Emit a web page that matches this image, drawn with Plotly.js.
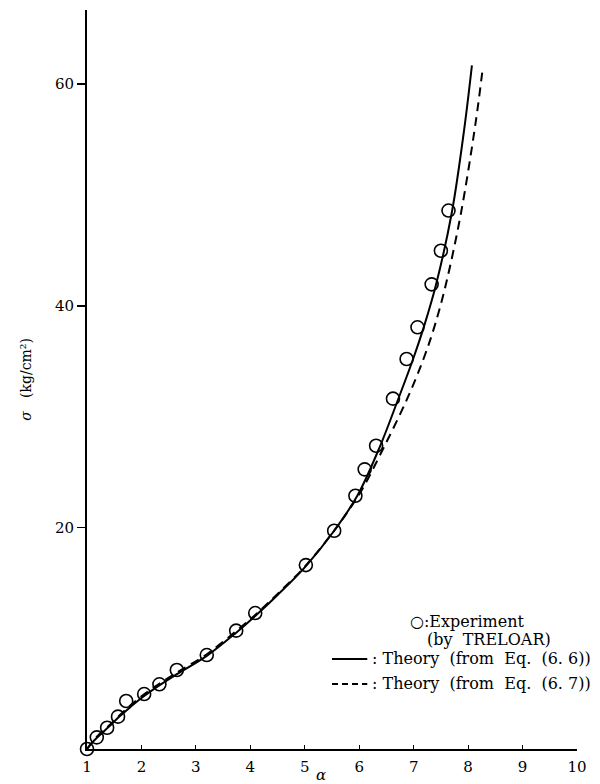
<!DOCTYPE html>
<html>
<head>
<meta charset="utf-8">
<script src="https://cdn.plot.ly/plotly-3.0.1.min.js"></script>
<style>html,body{margin:0;padding:0;background:#fff;}#chart{width:600px;height:784px;}</style>
</head>
<body>
<div id="chart"></div>
<script>
// Experimental data (by TRELOAR)
const expAlpha = [1.0, 1.18, 1.37, 1.57, 1.72, 2.05, 2.33, 2.65, 3.2, 3.74, 4.09, 5.02, 5.54, 5.93, 6.10, 6.31, 6.62, 6.87, 7.07, 7.33, 7.50, 7.64];
const expSigma = [0.0, 1.05, 1.92, 2.92, 4.33, 4.96, 5.84, 7.13, 8.48, 10.68, 12.27, 16.6, 19.7, 22.86, 25.24, 27.37, 31.62, 35.2, 38.06, 41.94, 44.97, 48.6];

// Theory (from Eq. (6.6)) - solid
const eq66Alpha = [1.0, 1.1, 1.2, 1.4, 1.6, 1.8, 2.0, 2.3, 2.65, 3.2, 3.74, 4.09, 4.5, 5.0, 5.54, 5.97, 6.38, 6.71, 6.99, 7.2, 7.41, 7.70, 7.93, 8.07];
const eq66Sigma = [0.0, 0.6, 1.1, 2.0, 2.95, 3.8, 4.6, 5.65, 6.75, 8.4, 10.5, 12.0, 13.9, 16.4, 19.7, 22.9, 27.3, 31.5, 35.2, 38.3, 41.9, 48.4, 56.0, 61.7];

// Theory (from Eq. (6.7)) - dashed
const eq67Alpha = [1.0, 1.1, 1.2, 1.4, 1.6, 1.8, 2.0, 2.3, 2.65, 3.2, 3.74, 4.09, 4.5, 5.0, 5.54, 5.8, 6.05, 6.47, 6.88, 7.18, 7.38, 7.59, 7.87, 8.14, 8.27];
const eq67Sigma = [0.0, 0.65, 1.2, 2.1, 3.05, 3.95, 4.75, 5.8, 6.9, 8.55, 10.65, 12.1, 14.0, 16.45, 19.7, 21.5, 23.4, 27.4, 31.6, 35.2, 38.1, 41.9, 48.4, 56.6, 61.5];

const xTicks = [1, 2, 3, 4, 5, 6, 7, 8, 9, 10];
const yTicks = [20, 40, 60];

const serif = '"DejaVu Serif", "Liberation Serif", serif';
const nb = '\u00a0';

const traces = [
  {x: eq66Alpha, y: eq66Sigma, mode: 'lines', line: {color: '#000', width: 2, shape: 'spline', smoothing: 1}, hoverinfo: 'skip', showlegend: false},
  {x: eq67Alpha, y: eq67Sigma, mode: 'lines', line: {color: '#000', width: 2, dash: '9px,6px', shape: 'spline', smoothing: 1}, hoverinfo: 'skip', showlegend: false},
  {x: expAlpha, y: expSigma, mode: 'markers', marker: {symbol: 'circle-open', size: 13, color: '#000', line: {width: 1.6, color: '#000'}}, cliponaxis: false, showlegend: false}
];

const layout = {
  width: 600, height: 784,
  margin: {l: 87, r: 23, t: 10, b: 35},
  paper_bgcolor: '#fff', plot_bgcolor: '#fff',
  font: {family: serif, color: '#000', size: 15},
  showlegend: false,
  xaxis: {
    range: [1, 10], tickvals: xTicks, ticktext: xTicks.map(String),
    ticks: 'inside', ticklen: 4, tickwidth: 1.2, tickcolor: '#000',
    showline: true, linecolor: '#000', linewidth: 1.5, showgrid: false, zeroline: false,
    tickfont: {family: serif, size: 15}, ticklabelstandoff: 3
  },
  yaxis: {
    range: [0, 66.7], tickvals: yTicks, ticktext: yTicks.map(String),
    ticks: 'outside', ticklen: 8, tickwidth: 1.5, tickcolor: '#000',
    showline: true, linecolor: '#000', linewidth: 2, showgrid: false, zeroline: false,
    tickfont: {family: serif, size: 15},
    title: {text: '<i>σ</i>' + nb + nb + nb + '(kg/cm²)', font: {family: serif, size: 14}, standoff: 20}
  },
  annotations: [
    {xref: 'paper', yref: 'paper', x: 0.478, y: 0.0, yanchor: 'bottom', yshift: -37, xanchor: 'center', showarrow: false,
     text: '<i>α</i>', font: {family: serif, size: 15}},
    {xref: 'paper', yref: 'paper', x: 0.655, y: 0.1732, xanchor: 'left', yanchor: 'middle', showarrow: false,
     text: '○:Experiment', font: {family: serif, size: 16}},
    {xref: 'paper', yref: 'paper', x: 0.69, y: 0.1475, xanchor: 'left', yanchor: 'middle', showarrow: false,
     text: '(by' + nb + nb + 'TRELOAR)', font: {family: serif, size: 16}},
    {xref: 'paper', yref: 'paper', x: 0.578, y: 0.1218, xanchor: 'left', yanchor: 'middle', showarrow: false,
     text: ':' + nb + 'Theory' + nb + nb + '(from' + nb + nb + 'Eq.' + nb + nb + '(6.' + nb + '6))', font: {family: serif, size: 16}},
    {xref: 'paper', yref: 'paper', x: 0.578, y: 0.088, xanchor: 'left', yanchor: 'middle', showarrow: false,
     text: ':' + nb + 'Theory' + nb + nb + '(from' + nb + nb + 'Eq.' + nb + nb + '(6.' + nb + '7))', font: {family: serif, size: 16}}
  ],
  shapes: [
    {type: 'line', xref: 'paper', yref: 'paper', x0: 0.5, x1: 0.572, y0: 0.1218, y1: 0.1218, line: {color: '#000', width: 2}},
    {type: 'line', xref: 'paper', yref: 'paper', x0: 0.5, x1: 0.572, y0: 0.088, y1: 0.088, line: {color: '#000', width: 2, dash: '6px,4px'}}
  ]
};

Plotly.newPlot('chart', traces, layout, {displayModeBar: false, staticPlot: true});
</script>
</body>
</html>
